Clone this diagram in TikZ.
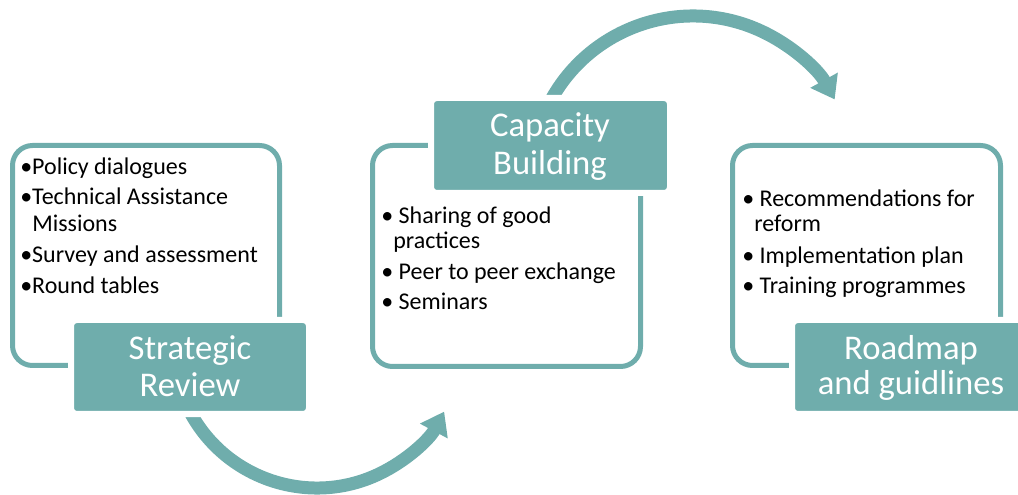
\documentclass[tikz,border=0pt]{standalone}
\usepackage{fontspec}
\setmainfont{Carlito}
\usetikzlibrary{arrows.meta}
\definecolor{teal1}{RGB}{111,173,172}
\begin{document}
\begin{tikzpicture}[x=0.75pt,y=-0.75pt,
  outline/.style={draw=teal1, line width=3.75pt, rounded corners=15pt, rectangle, inner sep=0pt},
  headbox/.style={fill=teal1, draw=white, line width=4.5pt, rounded corners=4.5pt, rectangle, inner sep=0pt},
  headtext/.style={anchor=base, inner sep=0pt, text=white, font=\fontsize{26}{28}\selectfont},
  item/.style={anchor=base west, inner sep=0pt, font=\fontsize{18}{20}\selectfont},
  flow/.style={draw=teal1, line width=9.75pt, -{Triangle[length=16.5pt,width=22.5pt]}}
]
\clip (0,0) rectangle (1018,495);
\useasboundingbox (0,0) rectangle (1018,495);

% outline boxes
\node[outline, minimum width=200.25pt, minimum height=165pt] (sbox) at (146,255.5) {};
\node[outline, minimum width=201pt, minimum height=165.75pt] (cbox) at (506.5,256) {};
\node[outline, minimum width=201pt, minimum height=165pt] (rbox) at (866.5,255.5) {};

% arrows
\draw[flow] (317,344) ++(155:144) coordinate (a1s) arc[start angle=155, end angle=28, radius=144];
\draw[flow] (693,178) ++(205:162) coordinate (a2s) arc[start angle=205, end angle=331, radius=162];

% header boxes
\node[headbox, minimum width=178.5pt, minimum height=70.5pt] (shead) at (190,367) {};
\node[headbox, minimum width=179.25pt, minimum height=71.25pt] (chead) at (550.5,145.5) {};
\node[headbox, minimum width=179.25pt, minimum height=70.5pt] (rhead) at (911.5,367) {};

\node[headtext] (sh1) at (190,360) {Strategic};
\node[headtext] (sh2) at (190,397) {Review};
\node[headtext] (ch1) at (550,137) {Capacity};
\node[headtext] (ch2) at (550,175) {Building};
\node[headtext] (rh1) at (911,360) {Roadmap};
\node[headtext] (rh2) at (911,395) {and guidlines};

% items
\node[item] (l1) at (20,175) {•Policy dialogues};
\node[item] (l2) at (20,205) {•Technical Assistance};
\node[item] (l3) at (32,232) {Missions};
\node[item] (l4) at (20,263) {•Survey and assessment};
\node[item] (l5) at (20,294) {•Round tables};

\node[item] (c1) at (381,224) {• Sharing of good};
\node[item] (c2) at (393,249) {practices};
\node[item] (c3) at (381,280) {• Peer to peer exchange};
\node[item] (c4) at (381,310) {• Seminars};

\node[item] (r1) at (742,207) {• Recommendations for};
\node[item] (r2) at (754,232) {reform};
\node[item] (r3) at (742,264) {• Implementation plan};
\node[item] (r4) at (742,294) {• Training programmes};
\end{tikzpicture}
\end{document}
